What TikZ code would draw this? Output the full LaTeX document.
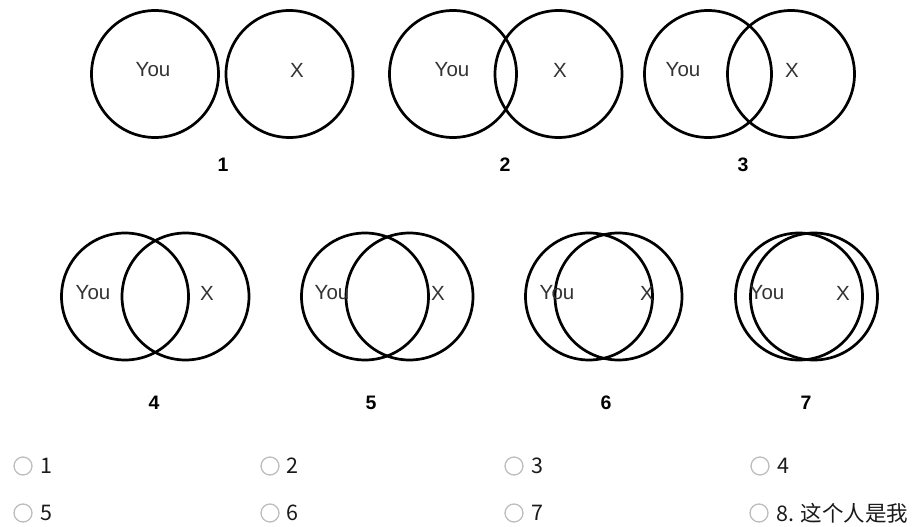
\documentclass[tikz,border=0pt]{standalone}
\usepackage{fontspec}
\setmainfont{Liberation Sans}
\newfontfamily\cjk{Noto Sans CJK SC}
\definecolor{txtgray}{HTML}{333333}
\definecolor{optgray}{HTML}{1A1A1A}
\definecolor{radiogray}{HTML}{BDBDBD}
\begin{document}
\begin{tikzpicture}[x=1pt,y=-1pt,
  venn/.style={circle,draw=black,line width=2.7pt,minimum size=127pt,inner sep=0pt},
  vlabel/.style={text=txtgray,font=\fontsize{20.5}{24}\selectfont,inner sep=0pt},
  num/.style={text=black,font=\fontsize{19.5}{22}\selectfont\bfseries,inner sep=0pt},
  radio/.style={circle,draw=radiogray,line width=1.3pt,minimum size=18pt,inner sep=0pt},
  opt/.style={text=optgray,font=\cjk\fontsize{21.5}{24}\selectfont,anchor=west,inner sep=0pt}]
\useasboundingbox (0,0) rectangle (919,527);
% pair 1
\node[venn] (c1a) at (155,74) {};
\node[venn] (c1b) at (289.5,74) {};
\node[vlabel] (t1a) at (153,70) {You};
\node[vlabel] (t1b) at (297,70) {X};
\node[num] (n1) at (223,165) {1};
% pair 2
\node[venn] (c2a) at (453,74) {};
\node[venn] (c2b) at (558.5,74) {};
\node[vlabel] (t2a) at (452,70) {You};
\node[vlabel] (t2b) at (560,70) {X};
\node[num] (n2) at (505,165) {2};
% pair 3
\node[venn] (c3a) at (708,74) {};
\node[venn] (c3b) at (791,74) {};
\node[vlabel] (t3a) at (683,70) {You};
\node[vlabel] (t3b) at (792,70) {X};
\node[num] (n3) at (743,165) {3};
% pair 4
\node[venn] (c4a) at (125,296.5) {};
\node[venn] (c4b) at (185.5,296.5) {};
\node[vlabel] (t4a) at (93,293) {You};
\node[vlabel] (t4b) at (207,293) {X};
\node[num] (n4) at (154,403) {4};
% pair 5
\node[venn] (c5a) at (365,296.5) {};
\node[venn] (c5b) at (409.5,296.5) {};
\node[vlabel] (t5a) at (332,293) {You};
\node[vlabel] (t5b) at (438,293) {X};
\node[num] (n5) at (371,403) {5};
% pair 6
\node[venn] (c6a) at (589,296.5) {};
\node[venn] (c6b) at (618.5,296.5) {};
\node[vlabel] (t6a) at (557,293) {You};
\node[vlabel] (t6b) at (647,293) {X};
\node[num] (n6) at (606,403) {6};
% pair 7
\node[venn] (c7a) at (799,296.5) {};
\node[venn] (c7b) at (814,296.5) {};
\node[vlabel] (t7a) at (767,293) {You};
\node[vlabel] (t7b) at (843,293) {X};
\node[num] (n7) at (806,403) {7};
% options
\node[radio] (r1) at (23,466) {};
\node[opt] (o1) at (40,466) {1};
\node[radio] (r2) at (270,466) {};
\node[opt] (o2) at (286,466) {2};
\node[radio] (r3) at (514,466) {};
\node[opt] (o3) at (531,466) {3};
\node[radio] (r4) at (760,466) {};
\node[opt] (o4) at (777,466) {4};
\node[radio] (r5) at (23,513) {};
\node[opt] (o5) at (40,513) {5};
\node[radio] (r6) at (270,513) {};
\node[opt] (o6) at (286,513) {6};
\node[radio] (r7) at (514,513) {};
\node[opt] (o7) at (531,513) {7};
\node[radio] (r8) at (759,513) {};
\node[opt] (o8) at (776,513) {8. 这个人是我};
\end{tikzpicture}
\end{document}
